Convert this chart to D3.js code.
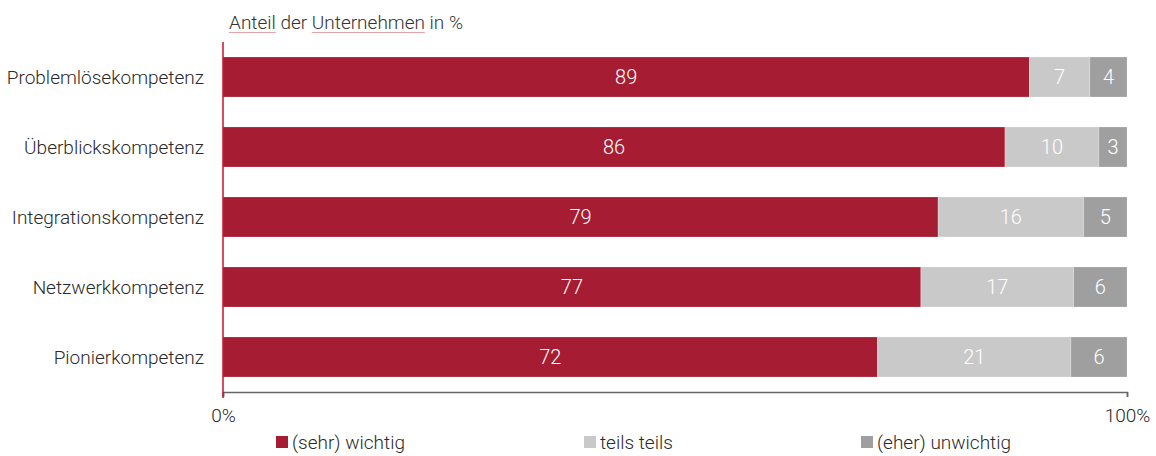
<!DOCTYPE html>
<html>
<head>
<meta charset="utf-8">
<script src="https://cdn.jsdelivr.net/npm/d3@7"></script>
<style>
  body { margin: 0; background: #fff; }
  text { font-family: "Roboto", sans-serif; font-weight: 300; }
</style>
</head>
<body>
<svg id="chart"></svg>
<script>
// categories, top to bottom
let categories = ["Problemlösekompetenz", "Überblickskompetenz", "Integrationskompetenz", "Netzwerkkompetenz", "Pionierkompetenz"];
let seriesNames = ["(sehr) wichtig", "teils teils", "(eher) unwichtig"];
// values in % (bar lengths), labels as printed
let wichtig = [89.2, 86.5, 79.1, 77.2, 72.4];
let teils = [6.7, 10.4, 16.1, 16.9, 21.4];
let unwichtig = [4.1, 3.1, 4.8, 5.9, 6.2];
let wichtigLabels = [89, 86, 79, 77, 72];
let teilsLabels = [7, 10, 16, 17, 21];
let unwichtigLabels = [4, 3, 5, 6, 6];
let tickLabels = ["0%", "100%"];

let colors = ["#a61c32", "#c9c9c9", "#9f9f9f"];

let width = 1156, height = 456;
let svg = d3.select("#chart").attr("width", width).attr("height", height);

let x = d3.scaleLinear().domain([0, 100]).range([223, 1127]);
let y = d3.scaleBand().domain(categories).range([42, 392])
    .paddingInner(3 / 7).paddingOuter(3 / 14);

let rows = categories.map((c, i) => ({
    cat: c,
    vals: [wichtig[i], teils[i], unwichtig[i]],
    labels: [wichtigLabels[i], teilsLabels[i], unwichtigLabels[i]]
}));

let segs = [];
rows.forEach(r => {
    let start = 0;
    r.vals.forEach((v, k) => {
        segs.push({cat: r.cat, x0: start, x1: start + v, k: k, label: r.labels[k]});
        start += v;
    });
});

// title (with the faint underlines seen in the original)
let titleText = "Anteil der Unternehmen in %";
let title = svg.append("text")
    .attr("x", 229).attr("y", 29)
    .attr("font-size", 19).attr("fill", "#333")
    .text(titleText);
[["Anteil", 0], ["Unternehmen", titleText.indexOf("Unternehmen")]].forEach(w => {
    let x0 = 229 + title.node().getSubStringLength(0, w[1]);
    let len = title.node().getSubStringLength(w[1], w[0].length);
    svg.append("line")
        .attr("x1", x0).attr("x2", x0 + len)
        .attr("y1", 32.5).attr("y2", 32.5)
        .attr("stroke", "#e6a3ab").attr("stroke-width", 1);
});

// bars
svg.append("g").selectAll("rect")
    .data(segs)
    .enter().append("rect")
    .attr("x", d => x(d.x0))
    .attr("y", d => y(d.cat))
    .attr("width", d => x(d.x1) - x(d.x0))
    .attr("height", y.bandwidth())
    .attr("fill", d => colors[d.k])
    .attr("stroke", "#fff")
    .attr("stroke-opacity", 0.35)
    .attr("stroke-width", 0.6);

svg.append("g").selectAll("text")
    .data(segs)
    .enter().append("text")
    .attr("x", d => x((d.x0 + d.x1) / 2))
    .attr("y", d => y(d.cat) + y.bandwidth() / 2)
    .attr("dy", "0.36em")
    .attr("text-anchor", "middle")
    .attr("font-size", 20)
    .attr("fill", "#fff")
    .text(d => d.label);

// category labels
svg.append("g").selectAll("text")
    .data(categories)
    .enter().append("text")
    .attr("x", 204)
    .attr("y", d => y(d) + y.bandwidth() / 2)
    .attr("dy", "0.36em")
    .attr("text-anchor", "end")
    .attr("font-size", 19)
    .attr("fill", "#2a2a2a")
    .text(d => d);

// x axis
let xAxis = svg.append("g")
    .attr("transform", "translate(0,392)")
    .call(d3.axisBottom(x).tickValues([0, 100]).tickSize(5).tickFormat((d, i) => tickLabels[i]));
xAxis.select(".domain").attr("stroke", "#666").attr("stroke-width", 1.5);
xAxis.selectAll(".tick line").attr("stroke", "#666").attr("stroke-width", 1.5);
xAxis.selectAll(".tick text")
    .attr("font-family", "Roboto").attr("font-weight", 300)
    .attr("font-size", 19).attr("fill", "#2a2a2a").attr("y", 17);

// red y axis line
svg.append("line")
    .attr("x1", 223).attr("x2", 223)
    .attr("y1", 42).attr("y2", 398)
    .attr("stroke", "#c8102e").attr("stroke-width", 1.5);

// legend
let legendX = [276, 584, 861];
let legend = svg.append("g").selectAll("g")
    .data(seriesNames)
    .enter().append("g")
    .attr("transform", (d, i) => "translate(" + legendX[i] + ",442)");
legend.append("rect")
    .attr("x", 0).attr("y", -6).attr("width", 12).attr("height", 12)
    .attr("fill", (d, i) => colors[i]);
legend.append("text")
    .attr("x", 16).attr("dy", "0.36em")
    .attr("font-size", 19).attr("fill", "#2a2a2a")
    .text(d => d);
</script>
</body>
</html>
